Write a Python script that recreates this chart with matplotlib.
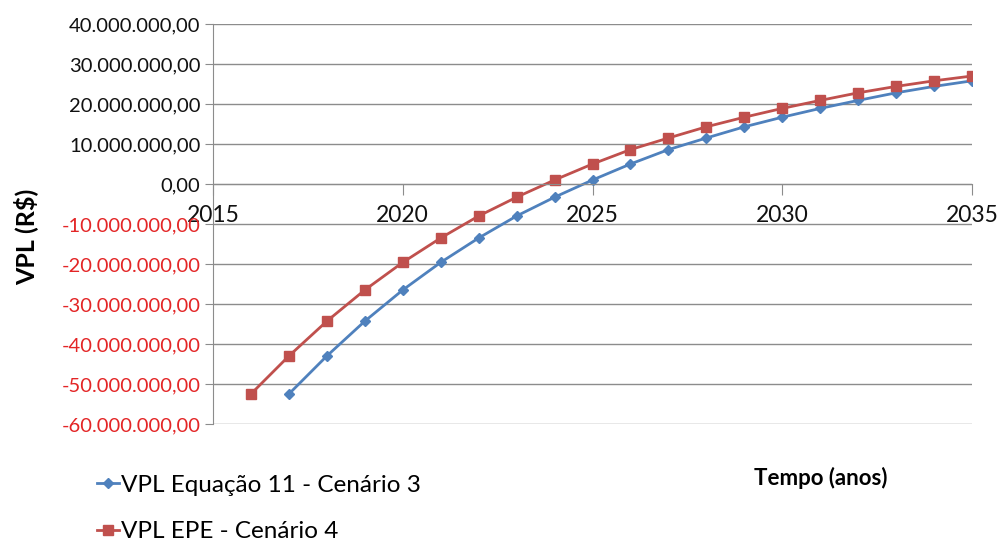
import matplotlib
matplotlib.use("Agg")
import matplotlib.pyplot as plt

plt.rcParams["font.family"] = ["Lato", "DejaVu Sans"]

# VPL por ano, em milhões de R$
anos_eq11 = [2017, 2018, 2019, 2020, 2021, 2022, 2023, 2024, 2025, 2026,
             2027, 2028, 2029, 2030, 2031, 2032, 2033, 2034, 2035]
vpl_eq11 = [-52.5, -43.0, -34.3, -26.5, -19.6, -13.5, -8.0, -3.3, 1.0, 5.0,
            8.6, 11.5, 14.3, 16.7, 18.9, 20.9, 22.8, 24.4, 25.8]

anos_epe = [2016, 2017, 2018, 2019, 2020, 2021, 2022, 2023, 2024, 2025,
            2026, 2027, 2028, 2029, 2030, 2031, 2032, 2033, 2034, 2035]
vpl_epe = [-52.5, -43.0, -34.3, -26.5, -19.6, -13.5, -8.0, -3.3, 1.0, 5.0,
           8.6, 11.5, 14.3, 16.7, 18.9, 20.9, 22.8, 24.4, 25.8, 27.0]

y_ticks = [-60, -50, -40, -30, -20, -10, 0, 10, 20, 30, 40]
x_ticks = [2015, 2020, 2025, 2030, 2035]


def fmt_br(v):
    s = f"{v * 1e6:,.2f}"
    return s.replace(",", "X").replace(".", ",").replace("X", ".")


fig = plt.figure(figsize=(9.99, 5.47), dpi=100)
ax = fig.add_axes([0.2132, 0.2249, 0.7598, 0.7312])

azul = "#4F81BD"
vermelho = "#C0504D"
l1, = ax.plot(anos_eq11, vpl_eq11, color=azul, lw=2.0,
              marker="D", ms=5, label="VPL Equação 11 - Cenário 3")
l2, = ax.plot(anos_epe, vpl_epe, color=vermelho, lw=2.0,
              marker="s", ms=7, label="VPL EPE - Cenário 4")

ax.set_xlim(2015, 2035)
ax.set_ylim(-60, 40)

ax.set_yticks(y_ticks, [fmt_br(v) for v in y_ticks])
ax.set_xticks(x_ticks, [str(x) for x in x_ticks])
for lab, v in zip(ax.get_yticklabels(), y_ticks):
    lab.set_color("#E32526" if v < 0 else "#111111")

ax.yaxis.grid(True, color="#8c8c8c", lw=1.0)
ax.set_axisbelow(True)

for side in ("top", "right"):
    ax.spines[side].set_visible(False)
ax.spines["left"].set_color("#8c8c8c")
ax.spines["bottom"].set_color("#8c8c8c")
ax.spines["bottom"].set_position(("data", 0))

ax.tick_params(axis="y", length=6, color="#8c8c8c", labelsize=14.5, pad=3)
ax.tick_params(axis="x", length=8, color="#8c8c8c", labelsize=16.5, pad=7,
               labelcolor="#111111")

fig.text(0.026, 0.567, "VPL (R$)", rotation=90, fontsize=18, fontweight="bold",
         ha="center", va="center")
fig.text(0.822, 0.126, "Tempo (anos)", fontsize=16, fontweight="bold",
         ha="center", va="center")

fig.legend(handles=[l1, l2], loc="upper left", bbox_to_anchor=(0.087, 0.150),
           frameon=False, fontsize=17.5, handlelength=0.9, handletextpad=0.1,
           labelspacing=1.05, borderaxespad=0)

fig.savefig("out.png", dpi=100)
